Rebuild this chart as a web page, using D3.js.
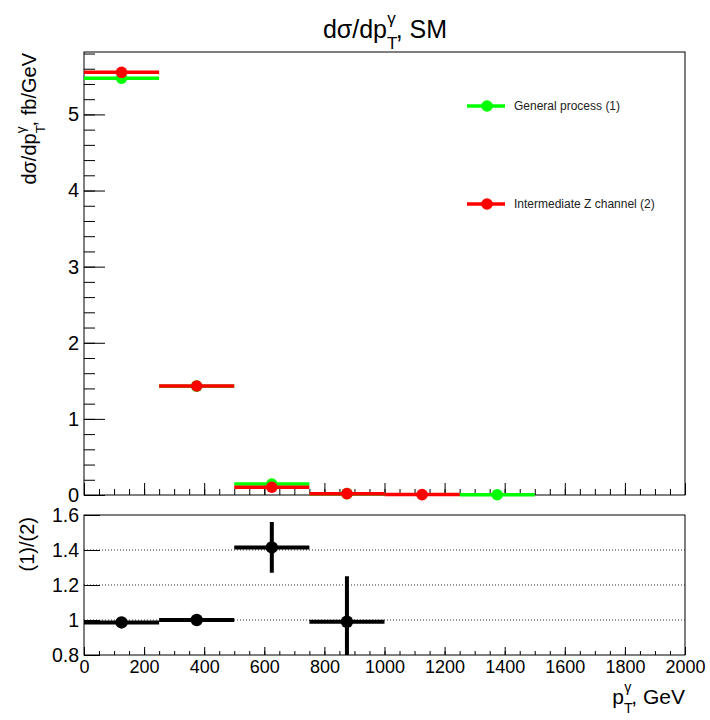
<!DOCTYPE html>
<html>
<head>
<meta charset="utf-8">
<script src="https://cdn.jsdelivr.net/npm/d3@7"></script>
<style>
body { margin: 0; background: #fff; }
text { font-family: "Liberation Sans", Arial, Helvetica, sans-serif; }
</style>
</head>
<body>
<div id="chart"></div>
<script>
// bins in pT (GeV)
const binEdges = [0, 250, 500, 750, 1000, 1250, 1500, 1750, 2000];
// dsigma/dpT, fb/GeV (0 = empty bin, not drawn)
const generalProcess = [5.475, 1.43, 0.144, 0.0178, 0, 0.003, 0, 0];
const intermediateZ = [5.553, 1.432, 0.102, 0.018, 0.005, 0, 0, 0];
// ratio (1)/(2) with errors
const ratioVals = [0.986, 1.0, 1.415, 0.99, null, null, null, null];
const ratioErrs = [0.008, 0.008, 0.145, 0.26, 0, 0, 0, 0];
const gridLevels = [1.0, 1.2, 1.4];
const legendLabels = ["General process (1)", "Intermediate Z channel (2)"];
const seriesColors = ["#00ff00", "#ff0000"];

const W = 710, H = 720;
const left = 84, right = 685;
const topY0 = 52, topY1 = 495;
const botY0 = 515, botY1 = 655;

const svg = d3.select("#chart").append("svg")
    .attr("width", W)
    .attr("height", H);

const x = d3.scaleLinear().domain([0, 2000]).range([left, right]);
const yTop = d3.scaleLinear().domain([0, 5.82]).range([topY1, topY0]);
const yBot = d3.scaleLinear().domain([0.8, 1.6]).range([botY1, botY0]);

// p_T^gamma with stacked sub/superscript, ROOT style
function ptGamma(text, size) {
    text.append("tspan").text("p");
    text.append("tspan").attr("font-size", size * 0.68).attr("dy", size * 0.45).text("T");
    text.append("tspan").attr("font-size", size * 0.68)
        .attr("dx", -size * 0.68 * 0.6).attr("dy", -size * 1.0).text("γ");
    return text.append("tspan").attr("dy", size * 0.55);
}

// Title
const title = svg.append("text")
    .attr("x", 385).attr("y", 38)
    .attr("text-anchor", "middle")
    .attr("font-size", 25);
title.append("tspan").text("dσ/d");
ptGamma(title, 25).text(", SM");

// ---- top panel ----
const topPanel = svg.append("g");

// axes
function styleAxis(g, size) {
    g.select(".domain").remove();
    g.attr("font-size", size).attr("font-family", "'Liberation Sans', Arial, sans-serif");
}

topPanel.append("g").attr("transform", `translate(${left},0)`)
    .call(d3.axisLeft(yTop).tickValues(d3.range(0, 5.81, 0.2)).tickSize(-11).tickFormat(""))
    .call(g => styleAxis(g, 20));
topPanel.append("g").attr("transform", `translate(${left},0)`)
    .call(d3.axisLeft(yTop).tickValues([0, 1, 2, 3, 4, 5]).tickSize(-21).tickPadding(5).tickFormat(d3.format("d")))
    .call(g => styleAxis(g, 20));
topPanel.append("g").attr("transform", `translate(0,${topY1})`)
    .call(d3.axisBottom(x).tickValues(d3.range(0, 2001, 50)).tickSize(-6).tickFormat(""))
    .call(g => styleAxis(g, 18));
topPanel.append("g").attr("transform", `translate(0,${topY1})`)
    .call(d3.axisBottom(x).tickValues(d3.range(0, 2001, 200)).tickSize(-12).tickFormat(""))
    .call(g => styleAxis(g, 18));

topPanel.append("rect")
    .attr("x", left).attr("y", topY0)
    .attr("width", right - left).attr("height", topY1 - topY0)
    .attr("fill", "none").attr("stroke", "#000").attr("stroke-width", 1);

// histograms
const bins = binEdges.slice(0, -1).map((lo, i) => ({
    lo: lo, hi: binEdges[i + 1], mid: (lo + binEdges[i + 1]) / 2,
    general: generalProcess[i], inter: intermediateZ[i],
    ratio: ratioVals[i], err: ratioErrs[i]
}));

function drawSeries(key, color) {
    const pts = bins.filter(d => d[key] > 0);
    const g = topPanel.append("g");
    g.selectAll("line")
        .data(pts)
        .enter().append("line")
            .attr("x1", d => x(d.lo))
            .attr("x2", d => x(d.hi))
            .attr("y1", d => yTop(d[key]))
            .attr("y2", d => yTop(d[key]))
            .attr("stroke", color)
            .attr("stroke-width", 3.5);
    g.selectAll("circle")
        .data(pts)
        .enter().append("circle")
            .attr("cx", d => x(d.mid))
            .attr("cy", d => yTop(d[key]))
            .attr("r", 5.8)
            .attr("fill", color);
}
drawSeries("general", seriesColors[0]);
drawSeries("inter", seriesColors[1]);

// y title
const yTitle = topPanel.append("text")
    .attr("transform", `translate(36,53) rotate(-90)`)
    .attr("text-anchor", "end")
    .attr("font-size", 20);
yTitle.append("tspan").text("dσ/d");
ptGamma(yTitle, 20).text(", fb/GeV");

// legend
const legendY = [106, 204];
const legend = topPanel.selectAll(".legend")
    .data(legendLabels)
    .enter().append("g")
        .attr("class", "legend")
        .attr("transform", (d, i) => `translate(0,${legendY[i]})`);
legend.append("line")
    .attr("x1", 467).attr("x2", 505)
    .attr("stroke", (d, i) => seriesColors[i])
    .attr("stroke-width", 3.5);
legend.append("circle")
    .attr("cx", 487).attr("r", 5.8)
    .attr("fill", (d, i) => seriesColors[i]);
legend.append("text")
    .attr("x", 514).attr("y", 4)
    .attr("font-size", 12)
    .attr("fill", "#222")
    .text(d => d);

// ---- ratio panel ----
const botPanel = svg.append("g");

botPanel.append("clipPath").attr("id", "clipBot")
    .append("rect")
        .attr("x", left).attr("y", botY0)
        .attr("width", right - left).attr("height", botY1 - botY0);

botPanel.selectAll(".grid")
    .data(gridLevels)
    .enter().append("line")
        .attr("class", "grid")
        .attr("x1", left).attr("x2", right)
        .attr("y1", d => yBot(d)).attr("y2", d => yBot(d))
        .attr("stroke", "#333")
        .attr("stroke-width", 1)
        .attr("stroke-dasharray", "1,2");

botPanel.append("g").attr("transform", `translate(${left},0)`)
    .call(d3.axisLeft(yBot).tickValues([0.8, 1.0, 1.2, 1.4, 1.6]).tickSize(-16).tickPadding(5).tickFormat(d3.format("~g")))
    .call(g => styleAxis(g, 19.5));
botPanel.append("g").attr("transform", `translate(0,${botY1})`)
    .call(d3.axisBottom(x).tickValues(d3.range(0, 2001, 50)).tickSize(-4).tickFormat(""))
    .call(g => styleAxis(g, 18));
botPanel.append("g").attr("transform", `translate(0,${botY1})`)
    .call(d3.axisBottom(x).tickValues(d3.range(0, 2001, 200)).tickSize(-8).tickPadding(5).tickFormat(d3.format("d")))
    .call(g => styleAxis(g, 18));

botPanel.append("rect")
    .attr("x", left).attr("y", botY0)
    .attr("width", right - left).attr("height", botY1 - botY0)
    .attr("fill", "none").attr("stroke", "#000").attr("stroke-width", 1);

const rpts = bins.filter(d => d.ratio != null);
const rg = botPanel.append("g").attr("clip-path", "url(#clipBot)");
rg.selectAll(".hbar")
    .data(rpts)
    .enter().append("line")
        .attr("class", "hbar")
        .attr("x1", d => x(d.lo)).attr("x2", d => x(d.hi))
        .attr("y1", d => yBot(d.ratio)).attr("y2", d => yBot(d.ratio))
        .attr("stroke", "#000").attr("stroke-width", 4);
rg.selectAll(".vbar")
    .data(rpts)
    .enter().append("line")
        .attr("class", "vbar")
        .attr("x1", d => x(d.mid)).attr("x2", d => x(d.mid))
        .attr("y1", d => yBot(d.ratio - d.err)).attr("y2", d => yBot(d.ratio + d.err))
        .attr("stroke", "#000").attr("stroke-width", 4);
rg.selectAll("circle")
    .data(rpts)
    .enter().append("circle")
        .attr("cx", d => x(d.mid))
        .attr("cy", d => yBot(d.ratio))
        .attr("r", 6.2)
        .attr("fill", "#000");

// ratio y title
botPanel.append("text")
    .attr("transform", `translate(34,517) rotate(-90)`)
    .attr("text-anchor", "end")
    .attr("font-size", 20)
    .text("(1)/(2)");

// x title
const xTitle = svg.append("text")
    .attr("x", right).attr("y", 704)
    .attr("text-anchor", "end")
    .attr("font-size", 21);
ptGamma(xTitle, 21).text(", GeV");
</script>
</body>
</html>
